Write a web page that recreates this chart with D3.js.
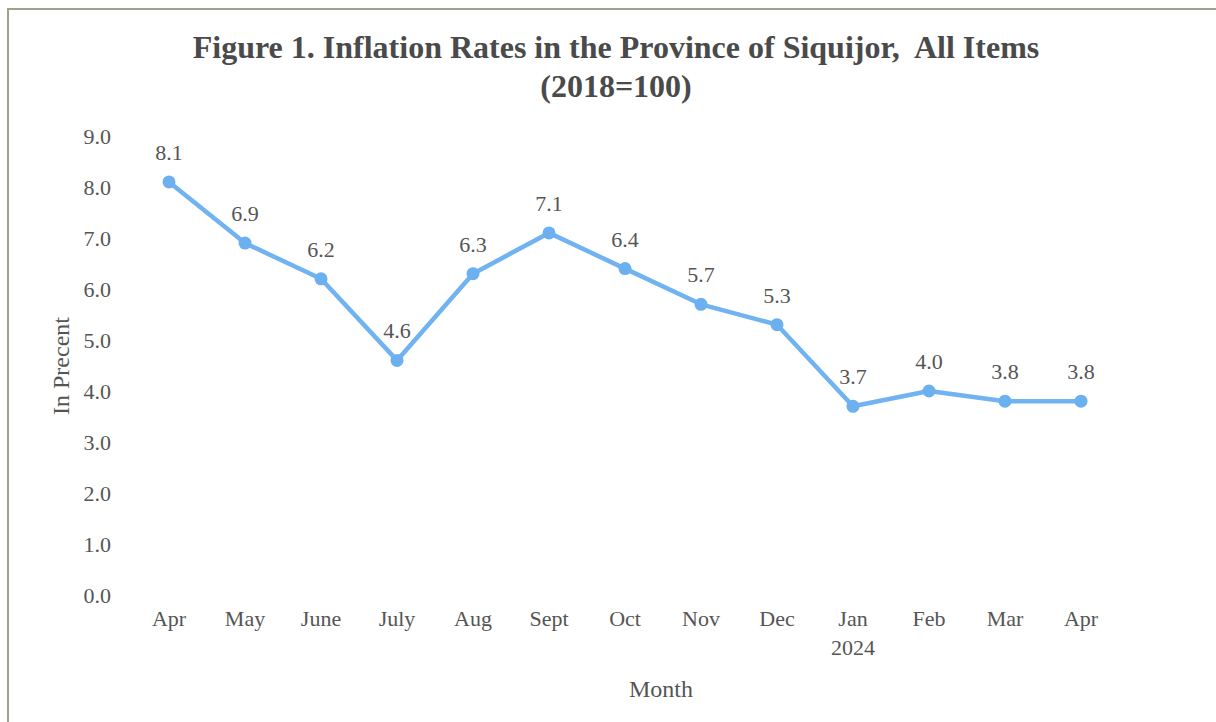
<!DOCTYPE html>
<html>
<head>
<meta charset="utf-8">
<script src="https://cdn.jsdelivr.net/npm/d3@7"></script>
<style>
  body { margin: 0; background: #fff; }
  svg text { font-family: "Liberation Serif", "Times New Roman", serif; }
</style>
</head>
<body>
<svg id="chart" width="1216" height="722"></svg>
<script>
// data
var months = ['Apr', 'May', 'June', 'July', 'Aug', 'Sept', 'Oct', 'Nov', 'Dec', 'Jan', 'Feb', 'Mar', 'Apr '];
var subLabels = ['', '', '', '', '', '', '', '', '', '2024', '', '', ''];
var rates = [8.1, 6.9, 6.2, 4.6, 6.3, 7.1, 6.4, 5.7, 5.3, 3.7, 4.0, 3.8, 3.8];
var yTicks = [0, 1, 2, 3, 4, 5, 6, 7, 8, 9];

var svg = d3.select('#chart');
var textColor = '#555';

// frame (top and left edge only, as scanned)
svg.append('path')
  .attr('d', 'M8,722 L8,9 L1216,9')
  .attr('fill', 'none')
  .attr('stroke', '#a0a28a')
  .attr('stroke-width', 2);

var x = d3.scaleBand().domain(months).range([131, 1119]);
var y = d3.scaleLinear().domain([0, 9]).range([595, 136]);

// title
svg.append('text')
  .attr('x', 616).attr('y', 58)
  .attr('text-anchor', 'middle')
  .attr('font-size', 32).attr('font-weight', 'bold')
  .attr('fill', '#4a4a4a')
  .text('Figure 1. Inflation Rates in the Province of Siquijor,\u00a0 All Items');
svg.append('text')
  .attr('x', 616).attr('y', 97)
  .attr('text-anchor', 'middle')
  .attr('font-size', 32).attr('font-weight', 'bold')
  .attr('fill', '#4a4a4a')
  .text('(2018=100)');

// y axis (labels only)
var yAxis = svg.append('g')
  .attr('transform', 'translate(111,0)')
  .call(d3.axisLeft(y).tickValues(yTicks).tickSize(0).tickPadding(0).tickFormat(d3.format('.1f')));
yAxis.select('.domain').remove();
yAxis.selectAll('text')
  .attr('font-family', '"Liberation Serif", serif')
  .attr('font-size', 22)
  .attr('fill', textColor);

// x axis (labels only)
var xAxis = svg.append('g')
  .attr('transform', 'translate(0,610)')
  .call(d3.axisBottom(x).tickSize(0).tickPadding(0).tickFormat(function(d) { return d.trim(); }));
xAxis.select('.domain').remove();
xAxis.selectAll('text')
  .attr('font-family', '"Liberation Serif", serif')
  .attr('font-size', 22)
  .attr('fill', textColor);

svg.append('g').selectAll('text')
  .data(months)
  .enter().append('text')
  .attr('x', function(d) { return x(d) + x.bandwidth() / 2; })
  .attr('y', 655)
  .attr('text-anchor', 'middle')
  .attr('font-size', 22)
  .attr('fill', textColor)
  .text(function(d, i) { return subLabels[i]; });

// axis titles
svg.append('text')
  .attr('transform', 'translate(69,366) rotate(-90)')
  .attr('text-anchor', 'middle')
  .attr('font-size', 24)
  .attr('fill', textColor)
  .text('In Precent');
svg.append('text')
  .attr('x', 661).attr('y', 697)
  .attr('text-anchor', 'middle')
  .attr('font-size', 24)
  .attr('fill', textColor)
  .text('Month');

// line
var cx = function(d, i) { return x(months[i]) + x.bandwidth() / 2; };
var line = d3.line()
  .x(cx)
  .y(function(d) { return y(d); });

svg.append('path')
  .datum(rates)
  .attr('d', line)
  .attr('fill', 'none')
  .attr('stroke', '#70b3f0')
  .attr('stroke-width', 4.5)
  .attr('stroke-linejoin', 'round');

svg.append('g').selectAll('circle')
  .data(rates)
  .enter().append('circle')
  .attr('cx', cx)
  .attr('cy', function(d) { return y(d); })
  .attr('r', 6.5)
  .attr('fill', '#6cb0f0');

svg.append('g').selectAll('text')
  .data(rates)
  .enter().append('text')
  .attr('x', cx)
  .attr('y', function(d) { return y(d) - 22; })
  .attr('text-anchor', 'middle')
  .attr('font-size', 22)
  .attr('fill', textColor)
  .text(d3.format('.1f'));
</script>
</body>
</html>
